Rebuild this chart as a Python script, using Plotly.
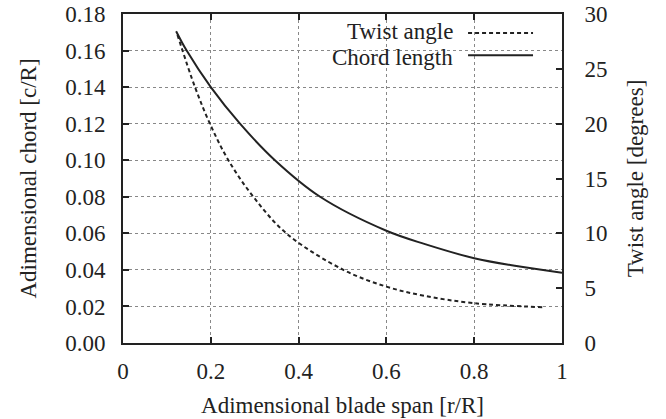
import plotly.graph_objects as go

# Data
span_chord = [0.121, 0.145, 0.2, 0.2665, 0.346, 0.449, 0.6, 0.688, 0.8, 0.9, 1.0]
chord = [0.1706, 0.160, 0.140, 0.120, 0.100, 0.080, 0.0614, 0.0541, 0.0464, 0.0420, 0.0384]

span_twist = [0.124, 0.164, 0.198, 0.240, 0.297, 0.372, 0.502, 0.6, 0.688, 0.8, 0.957]
twist = [28.1, 23.33, 20.0, 16.67, 13.33, 10.0, 6.67, 5.14, 4.29, 3.63, 3.26]

x_ticks = [0, 0.2, 0.4, 0.6, 0.8, 1]
x_ticklabels = ["0", "0.2", "0.4", "0.6", "0.8", "1"]
y_ticks = [0, 0.02, 0.04, 0.06, 0.08, 0.10, 0.12, 0.14, 0.16, 0.18]
y2_ticks = [0, 5, 10, 15, 20, 25, 30]

FONT = "Liberation Serif, Times New Roman, Tinos, DejaVu Serif, serif"
INK = "#222222"
TICK_SIZE = 23
TITLE_SIZE = 23

fig = go.Figure()
fig.add_trace(go.Scatter(x=span_twist, y=twist, yaxis="y2", mode="lines",
                         line=dict(color=INK, width=2, dash="4px,3px", shape="spline", smoothing=1),
                         name="Twist angle", showlegend=False))
fig.add_trace(go.Scatter(x=span_chord, y=chord, mode="lines",
                         line=dict(color=INK, width=2, shape="spline", smoothing=1),
                         name="Chord length", showlegend=False))

axis_common = dict(showline=True, linecolor=INK, linewidth=2, ticks="inside", ticklen=6,
                   tickwidth=1.5, tickcolor=INK, zeroline=False, automargin=False,
                   tickfont=dict(family=FONT, size=TICK_SIZE, color=INK))

fig.update_layout(
    width=666, height=419,
    margin=dict(l=123, r=104, t=14, b=76, autoexpand=False),
    paper_bgcolor="white", plot_bgcolor="white",
    font=dict(family=FONT, size=TITLE_SIZE, color=INK),
    xaxis=dict(range=[0, 1], tickvals=x_ticks, ticktext=x_ticklabels, mirror="ticks",
               showgrid=True, gridcolor="#888888", griddash="dot", gridwidth=1,
               title=dict(text="Adimensional blade span [r/R]", standoff=14,
                          font=dict(family=FONT, size=TITLE_SIZE, color=INK)),
               ticklabelstandoff=6, **axis_common),
    yaxis=dict(range=[0, 0.18], tickvals=y_ticks, tickformat=".2f", mirror=True,
               showgrid=True, gridcolor="#888888", griddash="dot", gridwidth=1,
               title=dict(text="Adimensional chord [c/R]", standoff=22,
                          font=dict(family=FONT, size=TITLE_SIZE, color=INK)),
               ticklabelstandoff=11, **axis_common),
    yaxis2=dict(range=[0, 30], tickvals=y2_ticks, overlaying="y", side="right",
                showgrid=False,
                title=dict(text="Twist angle [degrees]", standoff=20,
                           font=dict(family=FONT, size=TITLE_SIZE, color=INK)),
                ticklabelstandoff=16, **axis_common),
    showlegend=False,
)

# Legend box (gnuplot-style: label then sample on the right)
fig.add_shape(type="rect", xref="paper", yref="paper", x0=0.358, x1=0.966, y0=0.83, y1=0.997,
              fillcolor="white", line=dict(width=0), layer="between")
fig.add_shape(type="line", xref="paper", yref="paper", x0=0.786, x1=0.934, y0=0.942, y1=0.942,
              line=dict(color=INK, width=2, dash="4px,3px"))
fig.add_shape(type="line", xref="paper", yref="paper", x0=0.786, x1=0.934, y0=0.875, y1=0.875,
              line=dict(color=INK, width=2))
fig.add_annotation(xref="paper", yref="paper", x=0.756, y=0.948, text="Twist angle",
                   showarrow=False, xanchor="right", yanchor="middle",
                   font=dict(family=FONT, size=TICK_SIZE, color=INK))
fig.add_annotation(xref="paper", yref="paper", x=0.756, y=0.868, text="Chord length",
                   showarrow=False, xanchor="right", yanchor="middle",
                   font=dict(family=FONT, size=TICK_SIZE, color=INK))

fig.write_html("out.html")
